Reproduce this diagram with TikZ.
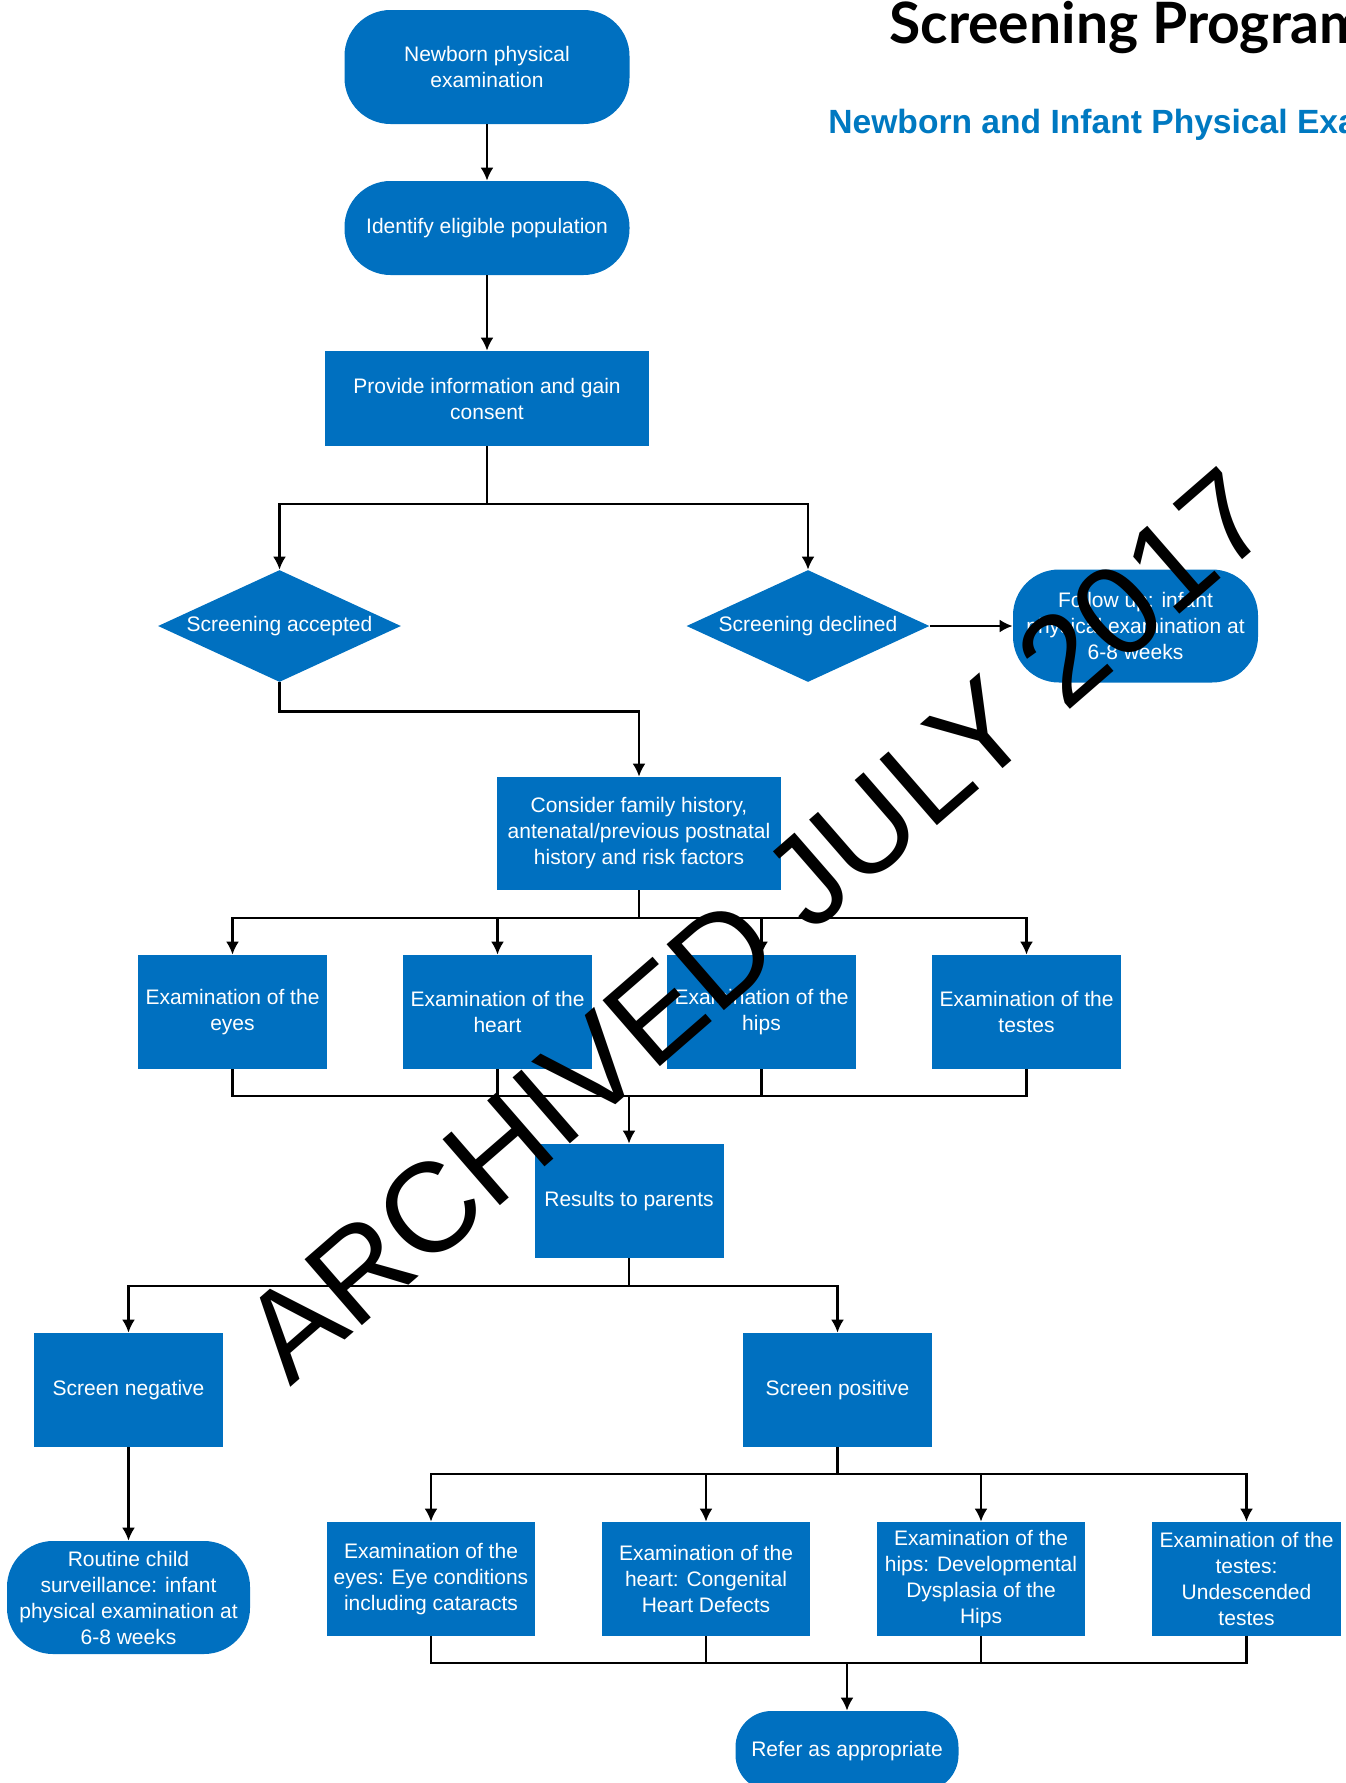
\documentclass[tikz,border=0pt]{standalone}
\usepackage{fontspec}
\setmainfont{Liberation Sans}
\newfontfamily\headfont{Lato}
\usepackage{xcolor}
\usetikzlibrary{arrows.meta,shapes.geometric,calc}
\definecolor{nipeblue}{RGB}{0,112,192}
\definecolor{headblue}{RGB}{0,121,193}
\tikzset{>={Latex[length=6.5pt,width=6.5pt]}}
\tikzset{
  box/.style={rectangle,fill=nipeblue,text=white,align=center,inner sep=1pt,
    font=\fontsize{10.5}{13}\selectfont},
  term/.style={box,rounded corners=23pt},
  choice/.style={diamond,fill=nipeblue,text=white,inner sep=0pt,aspect=2.17,
    minimum width=121.5pt,minimum height=56pt,font=\fontsize{10.5}{13}\selectfont},
  link/.style={line width=1.1pt}
}

\begin{document}
\begin{tikzpicture}[x=0.5pt,y=-0.5pt]
  \useasboundingbox (0,0) rectangle (1345,1783);
  % Headings
  \node[anchor=base west,inner sep=0pt,font=\headfont\bfseries\fontsize{28.5}{34}\selectfont] (title) at (889,43) {Screening Programme};
  \node[anchor=base west,inner sep=0pt,text=headblue,font=\bfseries\fontsize{16.8}{21}\selectfont] (sub) at (828,133) {Newborn and Infant Physical Examination};
  % Nodes
  \node[term,minimum width=142.5pt,minimum height=57pt] (nipe) at (487,67) {Newborn physical\\examination};
  \node[term,minimum width=142.5pt,minimum height=47pt] (pop) at (487,228) {Identify eligible population};
  \node[box,minimum width=162pt,minimum height=47.5pt] (info) at (487,398.5) {Provide information and gain\\consent};
  \node[choice] (acc) at (279.5,626) {Screening accepted};
  \node[choice] (dec) at (808,626) {Screening declined};
  \node[term,minimum width=122.5pt,minimum height=56.5pt] (fol) at (1135.5,626) {Follow up: infant\\physical examination at\\6-8 weeks};
  \node[box,minimum width=142pt,minimum height=56.5pt] (hist) at (639,833.5) {Consider family history,\\antenatal/previous postnatal\\history and risk factors};
  \foreach \n/\x in {eyes/232.5,heart/497.5,hips/761.5,testes/1026.5}
    \node[box,minimum width=94.5pt,minimum height=57pt] (\n) at (\x,1012) {Examination of the\\\n};
  \node[box,minimum width=94.5pt,minimum height=57pt] (res) at (629,1201) {Results to parents};
  \node[box,minimum width=94.5pt,minimum height=57pt] (neg) at (128.5,1390) {Screen negative};
  \node[box,minimum width=94.5pt,minimum height=57pt] (pos) at (837.5,1390) {Screen positive};
  \node[term,minimum width=121.5pt,minimum height=56.5pt] (rout) at (128.5,1597.5) {Routine child\\surveillance: infant\\physical examination at\\6-8 weeks};
  \node[box,minimum width=104pt,minimum height=57pt] (eyecc) at (431,1579) {Examination of the\\eyes: Eye conditions\\including cataracts};
  \node[box,minimum width=104pt,minimum height=57pt] (heartcc) at (706,1579) {Examination of the\\heart: Congenital\\Heart Defects};
  \node[box,minimum width=104pt,minimum height=57pt] (hipscc) at (981,1579) {Examination of the\\hips: Developmental\\Dysplasia of the\\Hips};
  \node[box,minimum width=94.5pt,minimum height=57pt] (testescc) at (1246.5,1579) {Examination of the\\testes:\\Undescended\\testes};
  \node[term,rounded corners=18pt,minimum width=111.5pt,minimum height=40pt] (refer) at (847,1751) {Refer as appropriate};
  % Junctions
  \coordinate (b1) at (487,504);
  \coordinate (b2) at (639,918);
  \coordinate (m1) at (629,1096);
  \coordinate (b3) at (629,1286);
  \coordinate (b4) at (837.5,1474);
  \coordinate (m2) at (847,1663);
  % Lines
  \draw[link,->] (nipe) -- (pop);
  \draw[link,->] (pop) -- (info);
  \draw[link] (info) -- (b1);
  \draw[link,->] (b1) -| (acc.north);
  \draw[link,->] (b1) -| (dec.north);
  \draw[link,->] (dec.east) -- (fol.west);
  \draw[link,->] (acc.south) -- ++(0,29) -| (hist.north);
  \draw[link] (hist) -- (b2);
  \foreach \n in {eyes,heart,hips,testes} {
    \draw[link,->] (b2) -| (\n.north);
    \draw[link] (\n.south) |- (m1);
  }
  \draw[link,->] (m1) -- (res.north);
  \draw[link] (res) -- (b3);
  \draw[link,->] (b3) -| (neg.north);
  \draw[link,->] (b3) -| (pos.north);
  \draw[link,->] (neg) -- (rout);
  \draw[link] (pos) -- (b4);
  \foreach \n in {eyecc,heartcc,hipscc,testescc} {
    \draw[link,->] (b4) -| (\n.north);
    \draw[link] (\n.south) |- (m2);
  }
  \draw[link,->] (m2) -- (refer.north);
  % Watermark
  \node[rotate=41,inner sep=0pt,font=\fontsize{63.5}{70}\selectfont] (stamp) at (756,925) {ARCHIVED JULY 2017};
\end{tikzpicture}
\end{document}
